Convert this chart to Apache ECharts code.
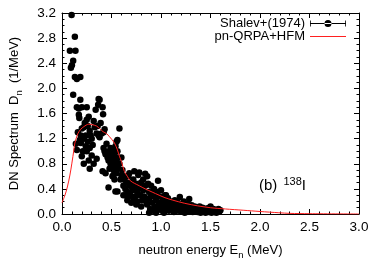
<!DOCTYPE html>
<html><head><meta charset="utf-8">
<script src="https://cdn.jsdelivr.net/npm/echarts@6/dist/echarts.min.js"></script>
<style>html,body{margin:0;padding:0;background:#fff}#c{width:382px;height:268px}</style>
</head><body><div id="c"></div>
<script>
// Measured points: Shalev+(1974) [energy MeV, Dn 1/MeV]
const shalevX = [0.097,0.13,0.08,0.136,0.113,0.10,0.09,0.13,0.15,0.185,0.113,0.185,0.15,0.17,0.20,0.25,0.17,0.175,0.14,0.15,0.18,0.20,0.22,0.16,0.19,
0.22,0.23,0.25,0.27,0.26,0.28,0.24,0.22,0.26,0.29,0.30,0.32,0.33,0.31,0.28,0.25,0.30,0.35,0.37,0.36,0.38,0.40,0.42,0.34,0.37,0.38,0.365,0.41,0.415,0.39,0.43,0.42,0.43,0.44,0.45,0.32,0.28,0.35,0.27,0.41,0.44,0.47,0.24,0.21,0.19,0.20,
0.46,0.47,0.48,0.49,0.50,0.50,0.51,0.52,0.52,0.53,0.53,0.54,0.54,0.55,0.55,0.56,0.57,0.57,0.58,0.58,0.56,0.55,0.49,0.46,0.51,0.53,0.54,0.60,0.60,0.59,0.52,0.48,
0.61,0.62,0.63,0.64,0.65,0.66,0.67,0.68,0.69,0.70,0.71,0.72,0.73,0.74,0.75,0.76,0.77,0.78,0.79,0.80,0.81,0.82,0.83,0.84,0.85,0.62,0.66,0.70,0.75,0.80,0.68,0.73,0.78,0.64,0.72,0.82,0.84,0.86,0.88,0.87,0.56,0.66,0.76,0.94,
0.86,0.88,0.89,0.90,0.91,0.92,0.93,0.94,0.95,0.96,0.97,0.97,0.98,0.99,1.00,1.01,1.02,1.03,1.04,1.05,1.06,1.07,1.08,1.09,1.10,0.90,0.93,1.00,1.05,0.88,0.95,1.03,
1.11,1.12,1.13,1.14,1.15,1.16,1.17,1.18,1.19,1.20,1.21,1.22,1.23,1.24,1.25,1.26,1.27,1.285,1.29,1.30,1.31,1.32,1.33,1.34,1.35,
1.36,1.37,1.38,1.39,1.40,1.41,1.42,1.43,1.44,1.45,1.46,1.47,1.48,1.49,1.50,1.51,1.52,1.53,1.54,1.55,1.56,1.57,1.58,1.59,1.60];
const shalevY = [3.17,2.82,2.60,2.60,2.44,2.37,2.33,2.18,2.15,2.18,1.90,1.82,1.70,1.68,1.70,1.70,1.58,1.53,1.12,1.02,1.18,0.92,0.80,1.30,1.25,
1.38,1.45,1.50,1.55,1.40,1.32,1.25,1.20,1.15,1.25,1.20,1.48,1.38,1.10,1.05,1.00,0.93,1.28,1.25,1.40,1.22,1.28,1.30,1.66,1.83,1.82,1.74,1.70,1.59,1.45,1.35,1.05,1.00,0.95,1.12,0.80,0.72,0.88,0.85,0.68,0.65,0.42,1.08,1.00,1.13,1.36,
0.90,0.85,1.00,0.80,0.95,0.75,0.88,0.70,1.00,0.82,0.92,1.08,0.78,0.65,0.85,1.00,0.90,0.72,0.80,1.36,1.18,1.15,1.05,0.98,0.60,0.55,0.36,0.62,0.90,0.55,0.62,0.72,
0.70,0.45,0.55,0.40,0.50,0.35,0.60,0.45,0.30,0.50,0.38,0.55,0.42,0.28,0.48,0.35,0.62,0.42,0.30,0.50,0.22,0.38,0.28,0.45,0.20,0.30,0.22,0.18,0.15,0.12,0.65,0.68,0.66,0.60,0.25,0.55,0.64,0.60,0.35,0.48,0.36,0.28,0.20,0.06,
0.15,0.25,0.08,0.32,0.18,0.05,0.28,0.12,0.22,0.35,0.53,0.08,0.18,0.28,0.12,0.05,0.22,0.15,0.30,0.08,0.18,0.25,0.05,0.12,0.20,0.45,0.40,0.38,0.30,0.02,0.02,0.02,
0.08,0.15,0.03,0.22,0.10,0.05,0.18,0.12,0.27,0.04,0.14,0.08,0.20,0.02,0.12,0.06,0.16,0.24,0.04,0.10,0.14,0.03,0.08,0.12,0.05,
0.10,0.03,0.07,0.12,0.02,0.06,0.10,0.04,0.08,0.02,0.05,0.09,0.03,0.06,0.12,0.02,0.05,0.08,0.03,0.06,0.02,0.05,0.08,0.04,0.06];
// Theory curve: pn-QRPA+HFM
const theoryX = [0,0.03,0.054,0.08,0.10,0.12,0.13,0.16,0.19,0.22,0.27,0.31,0.35,0.38,0.415,0.45,0.48,0.53,0.56,0.58,0.60,0.63,0.66,0.69,0.73,0.78,0.84,0.91,0.98,1.04,1.12,1.24,1.37,1.50,1.65,1.83,2.0,2.19,2.3,2.5,3.0];
const theoryY = [0.18,0.30,0.43,0.62,0.81,1.02,1.13,1.28,1.35,1.39,1.43,1.42,1.40,1.36,1.31,1.28,1.23,1.13,1.02,0.92,0.84,0.68,0.60,0.53,0.49,0.45,0.40,0.35,0.30,0.26,0.22,0.17,0.13,0.10,0.08,0.06,0.04,0.02,0.01,0.005,0.0];
const xTicks = ['0.0','0.5','1.0','1.5','2.0','2.5','3.0'];
const yTicks = ['0.0','0.4','0.8','1.2','1.6','2.0','2.4','2.8','3.2'];

const FONT = 'Liberation Sans, Arial, sans-serif';
const chart = echarts.init(document.getElementById('c'));
function ax(split, extra) {
  return Object.assign({
    axisLine: {show: true, onZero: false, lineStyle: {color: '#000', width: 1}},
    axisTick: {show: true, inside: true, length: 5, lineStyle: {color: '#000'}},
    minorTick: {show: true, splitNumber: split, length: 2.5, lineStyle: {color: '#000'}},
    splitLine: {show: false}
  }, extra);
}
const errIcon = 'path://M0,3.6H36V4.4H0Z M0,1H0.8V7H0Z M35.2,1H36V7H35.2Z M14.5,4A3.5,3.5 0 1,0 21.5,4A3.5,3.5 0 1,0 14.5,4Z';
const lineIcon = 'path://M0,3.5H36V4.5H0Z';
const tickFont = {fontFamily: FONT, fontSize: 13.5, color: '#000'};
chart.setOption({
  animation: false,
  backgroundColor: '#fff',
  grid: {left: 54.5, right: 23, top: 13, bottom: 54, show: false},
  legend: [
    {data: [{name: 'Shalev+(1974)', icon: errIcon}], right: 36, top: 17, align: 'right', itemWidth: 36, itemHeight: 8,
     textStyle: {fontFamily: FONT, fontSize: 13, color: '#000'}, itemGap: 0, padding: 0},
    {data: [{name: 'pn-QRPA+HFM', icon: lineIcon}], right: 36, top: 30, align: 'right', itemWidth: 36, itemHeight: 8,
     textStyle: {fontFamily: FONT, fontSize: 13, color: '#000'}, itemGap: 0, padding: 0}
  ],
  xAxis: [
    ax(5, {type: 'value', min: 0, max: 3, interval: 0.5, position: 'bottom',
      name: 'neutron energy E{s|n} (MeV)', nameLocation: 'middle', nameGap: 27,
      nameTextStyle: {fontFamily: FONT, fontSize: 13, color: '#000', rich: {s: {fontSize: 9.5, padding: [9, 0, 0, 0]}}},
      axisLabel: Object.assign({margin: 6, formatter: v => xTicks[Math.round(v / 0.5)]}, tickFont)}),
    ax(5, {type: 'value', min: 0, max: 3, interval: 0.5, position: 'top', axisLabel: {show: false}})
  ],
  yAxis: [
    ax(4, {type: 'value', min: 0, max: 3.2, interval: 0.4, position: 'left',
      name: 'DN Spectrum  D{s|n}  (1/MeV)', nameLocation: 'middle', nameGap: 38,
      nameTextStyle: {fontFamily: FONT, fontSize: 13, color: '#000', rich: {s: {fontSize: 9.5, padding: [9, 0, 0, 0]}}},
      axisLabel: Object.assign({margin: 6, formatter: v => yTicks[Math.round(v / 0.4)]}, tickFont)}),
    ax(4, {type: 'value', min: 0, max: 3.2, interval: 0.4, position: 'right', axisLabel: {show: false}})
  ],
  graphic: [{type: 'text', right: 76, top: 176, style: {text: '(b) {s|138}I', font: '15px ' + FONT, fill: '#000',
    rich: {s: {fontSize: 11, padding: [0, 0, 9, 2], fill: '#000'}}}}],
  series: [
    {name: 'pn-QRPA+HFM', type: 'line', data: theoryX.map((x, i) => [x, theoryY[i]]), showSymbol: false, symbol: 'none',
     smooth: 0.3, lineStyle: {color: '#ff2020', width: 1}, itemStyle: {color: '#ff2020'}, z: 3},
    {name: 'Shalev+(1974)', type: 'scatter', data: shalevX.map((x, i) => [x, shalevY[i]]), symbolSize: 6.5,
     itemStyle: {color: '#000', opacity: 1}, z: 2}
  ]
});
</script></body></html>
